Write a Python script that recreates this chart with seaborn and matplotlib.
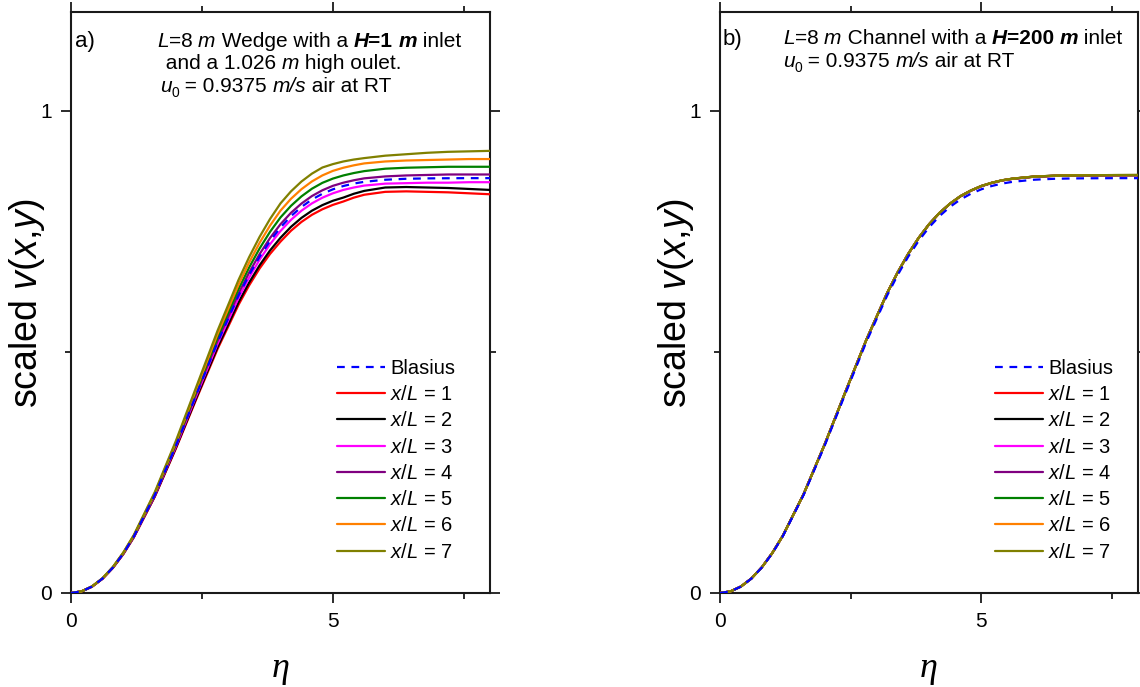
import matplotlib
matplotlib.use("Agg")
import matplotlib.pyplot as plt
from matplotlib.ticker import MultipleLocator
from matplotlib.font_manager import FontProperties
import seaborn as sns

# ---------------- data ----------------
eta = [0.0, 0.2, 0.4, 0.6, 0.8, 1.0, 1.2, 1.6, 2.0, 2.4, 2.8, 3.2, 3.4, 3.6, 3.8,
       4.0, 4.2, 4.4, 4.6, 4.8, 5.0, 5.2, 5.4, 5.6, 6.0, 6.4, 6.8, 7.2, 7.6, 8.0]

blasius = [0.0, 0.0033, 0.0133, 0.0298, 0.0528, 0.0821, 0.1173, 0.2033, 0.3048, 0.4136,
           0.5206, 0.6172, 0.6595, 0.6972, 0.7301, 0.7582, 0.7816, 0.8007, 0.8161, 0.8280,
           0.8372, 0.8441, 0.8492, 0.8528, 0.8571, 0.8591, 0.8599, 0.8602, 0.8604, 0.8604]

# panel a: wedge, H = 1 m
a_x1 = [0.0, 0.0033, 0.0130, 0.0293, 0.0520, 0.0808, 0.1155, 0.1998, 0.2989, 0.4040,
        0.5065, 0.5980, 0.6378, 0.6729, 0.7032, 0.7288, 0.7513, 0.7696, 0.7844, 0.7959,
        0.8050, 0.8120, 0.8200, 0.8260, 0.8320, 0.8330, 0.8320, 0.8310, 0.8290, 0.8270]
a_x2 = [0.0, 0.0033, 0.0131, 0.0295, 0.0522, 0.0812, 0.1160, 0.2007, 0.3005, 0.4066,
        0.5103, 0.6032, 0.6436, 0.6794, 0.7104, 0.7367, 0.7594, 0.7780, 0.7929, 0.8045,
        0.8135, 0.8201, 0.8280, 0.8340, 0.8410, 0.8420, 0.8410, 0.8400, 0.8380, 0.8360]
a_x3 = [0.0, 0.0033, 0.0132, 0.0297, 0.0526, 0.0818, 0.1168, 0.2024, 0.3033, 0.4112,
        0.5170, 0.6124, 0.6540, 0.6911, 0.7233, 0.7508, 0.7739, 0.7929, 0.8081, 0.8199,
        0.8290, 0.8360, 0.8410, 0.8450, 0.8490, 0.8500, 0.8510, 0.8510, 0.8520, 0.8520]
a_x4 = [0.0, 0.0033, 0.0134, 0.0299, 0.0530, 0.0824, 0.1177, 0.2041, 0.3061, 0.4158,
        0.5238, 0.6215, 0.6644, 0.7027, 0.7362, 0.7649, 0.7885, 0.8077, 0.8233, 0.8353,
        0.8445, 0.8510, 0.8560, 0.8600, 0.8640, 0.8660, 0.8670, 0.8680, 0.8680, 0.8680]
a_x5 = [0.0, 0.0033, 0.0135, 0.0301, 0.0534, 0.0830, 0.1186, 0.2058, 0.3090, 0.4204,
        0.5306, 0.6307, 0.6749, 0.7144, 0.7491, 0.7790, 0.8030, 0.8226, 0.8385, 0.8507,
        0.8595, 0.8660, 0.8710, 0.8750, 0.8800, 0.8820, 0.8830, 0.8840, 0.8840, 0.8840]
a_x6 = [0.0, 0.0034, 0.0136, 0.0303, 0.0538, 0.0836, 0.1195, 0.2075, 0.3118, 0.4250,
        0.5374, 0.6399, 0.6853, 0.7261, 0.7620, 0.7931, 0.8176, 0.8375, 0.8536, 0.8661,
        0.8755, 0.8820, 0.8870, 0.8910, 0.8950, 0.8970, 0.8980, 0.8990, 0.9000, 0.9000]
a_x7 = [0.0, 0.0034, 0.0137, 0.0306, 0.0542, 0.0843, 0.1204, 0.2093, 0.3148, 0.4299,
        0.5446, 0.6497, 0.6964, 0.7385, 0.7757, 0.8081, 0.8330, 0.8534, 0.8698, 0.8825,
        0.8895, 0.8950, 0.8990, 0.9020, 0.9070, 0.9100, 0.9130, 0.9150, 0.9160, 0.9170]

# panel b: channel, H = 200 m
b_x1 = [0.0, 0.0033, 0.0134, 0.0300, 0.0532, 0.0828, 0.1183, 0.2050, 0.3073, 0.4170,
        0.5249, 0.6223, 0.6648, 0.7028, 0.7360, 0.7644, 0.7879, 0.8070, 0.8226, 0.8343,
        0.8437, 0.8504, 0.8556, 0.8590, 0.8632, 0.8651, 0.8659, 0.8662, 0.8664, 0.8665]
b_x2 = [0.0, 0.0033, 0.0134, 0.0300, 0.0532, 0.0828, 0.1183, 0.2050, 0.3073, 0.4170,
        0.5249, 0.6223, 0.6648, 0.7029, 0.7361, 0.7645, 0.7880, 0.8071, 0.8227, 0.8344,
        0.8438, 0.8505, 0.8557, 0.8591, 0.8633, 0.8652, 0.8660, 0.8663, 0.8665, 0.8666]
b_x3 = [0.0, 0.0033, 0.0134, 0.0300, 0.0532, 0.0828, 0.1183, 0.2050, 0.3073, 0.4170,
        0.5249, 0.6223, 0.6649, 0.7029, 0.7362, 0.7646, 0.7881, 0.8072, 0.8228, 0.8345,
        0.8439, 0.8506, 0.8558, 0.8592, 0.8634, 0.8653, 0.8661, 0.8664, 0.8666, 0.8667]
b_x4 = [0.0, 0.0033, 0.0134, 0.0300, 0.0532, 0.0828, 0.1183, 0.2050, 0.3073, 0.4170,
        0.5249, 0.6223, 0.6649, 0.7030, 0.7362, 0.7646, 0.7882, 0.8073, 0.8229, 0.8346,
        0.8440, 0.8507, 0.8559, 0.8593, 0.8635, 0.8654, 0.8662, 0.8665, 0.8667, 0.8668]
b_x5 = [0.0, 0.0033, 0.0134, 0.0300, 0.0532, 0.0828, 0.1183, 0.2050, 0.3073, 0.4170,
        0.5249, 0.6223, 0.6649, 0.7030, 0.7363, 0.7647, 0.7883, 0.8074, 0.8230, 0.8347,
        0.8441, 0.8508, 0.8560, 0.8594, 0.8636, 0.8655, 0.8663, 0.8666, 0.8668, 0.8669]
b_x6 = [0.0, 0.0033, 0.0134, 0.0300, 0.0532, 0.0828, 0.1183, 0.2050, 0.3073, 0.4170,
        0.5249, 0.6223, 0.6649, 0.7030, 0.7363, 0.7647, 0.7883, 0.8074, 0.8230, 0.8347,
        0.8441, 0.8508, 0.8560, 0.8594, 0.8636, 0.8655, 0.8663, 0.8666, 0.8668, 0.8669]
b_x7 = [0.0, 0.0033, 0.0134, 0.0300, 0.0532, 0.0828, 0.1183, 0.2050, 0.3073, 0.4170,
        0.5249, 0.6223, 0.6649, 0.7030, 0.7363, 0.7647, 0.7883, 0.8074, 0.8230, 0.8347,
        0.8441, 0.8508, 0.8560, 0.8594, 0.8636, 0.8655, 0.8663, 0.8666, 0.8668, 0.8669]

series_labels = [r"$\mathit{x/L}$ = %d" % k for k in range(1, 8)]
series_colors = ["#ff0000", "#000000", "#ff00ff", "#800080", "#008000", "#ff8000", "#808000"]
blasius_color = "#0000ff"

x_major = [0, 5]
y_major = [0, 1]

# ---------------- style ----------------
sns.set_style("ticks")
plt.rcParams["font.family"] = ["Liberation Sans", "DejaVu Sans"]
plt.rcParams["mathtext.fontset"] = "custom"
plt.rcParams["mathtext.rm"] = "Liberation Sans"
plt.rcParams["mathtext.it"] = "Liberation Sans:italic"
plt.rcParams["mathtext.bf"] = "Liberation Sans:bold"
plt.rcParams["text.color"] = "black"
plt.rcParams["axes.labelcolor"] = "black"

W, H = 1140, 687
fig = plt.figure(figsize=(W / 100, H / 100), dpi=100)


def px_axes(l, r, t, b):
    return fig.add_axes([l / W, 1 - b / H, (r - l) / W, (b - t) / H])


ax_a = px_axes(71, 490, 12, 593)
ax_b = px_axes(720, 1138, 12, 593)

panels = [
    (ax_a, [a_x1, a_x2, a_x3, a_x4, a_x5, a_x6, a_x7], (337 - 71) / 419, -24 / 419),
    (ax_b, [b_x1, b_x2, b_x3, b_x4, b_x5, b_x6, b_x7], (995 - 720) / 418, -24 / 418),
]

for ax, curves, leg_x, ylab_x in panels:
    sns.lineplot(x=eta, y=blasius, ax=ax, color=blasius_color, lw=1.6,
                 linestyle=(0, (3.5, 3)), label="Blasius", zorder=5)
    for vals, lab, col in zip(curves, series_labels, series_colors):
        sns.lineplot(x=eta, y=vals, ax=ax, color=col, lw=1.6, label=lab, zorder=3)
    ax.set_xlim(0, 8)
    ax.set_ylim(0, 1.205)
    ax.set_xticks(x_major)
    ax.set_yticks(y_major)
    ax.xaxis.set_minor_locator(MultipleLocator(2.5))
    ax.yaxis.set_minor_locator(MultipleLocator(0.5))
    ax.tick_params(which="both", direction="out", top=True, right=True,
                   width=1.3, colors="#1a1a1a", labelcolor="black")
    ax.tick_params(which="major", length=7, labelsize=15, pad=7)
    ax.tick_params(which="minor", length=4)
    for s in ax.spines.values():
        s.set_linewidth(1.5)
        s.set_color("#1a1a1a")
    ax.set_xlabel("η", fontfamily="Liberation Serif", style="italic", fontsize=26, labelpad=15)
    ax.set_ylabel(r"scaled $\mathit{v}$($\mathit{x}$,$\mathit{y}$)", fontsize=27)
    ax.yaxis.set_label_coords(ylab_x, 0.5)
    leg = ax.legend(loc="upper left", bbox_to_anchor=(leg_x, 0.403), frameon=False,
                    fontsize=14.5, handlelength=2.4, handletextpad=0.25,
                    labelspacing=0.36, borderpad=0, borderaxespad=0)
    for t in leg.get_texts():
        t.set_color("black")

renderer = fig.canvas.get_renderer()


def seg_width(s, prop):
    w1, _, _ = renderer.get_text_width_height_descent(s + "|", prop, ismath=False)
    w2, _, _ = renderer.get_text_width_height_descent("|", prop, ismath=False)
    return w1 - w2


def rich(x, y, segs, size=15):
    cx = x
    for seg in segs:
        s, style, weight = seg[0], seg[1], seg[2]
        sz = seg[3] if len(seg) > 3 else size
        dy = seg[4] if len(seg) > 4 else 0
        prop = FontProperties(family="Liberation Sans", style=style, weight=weight, size=sz)
        fig.text(cx / W, 1 - (y + dy) / H, s, fontproperties=prop, va="baseline",
                 ha="left", color="black")
        cx += seg_width(s, prop)


N, I, B = "normal", "italic", "bold"

rich(75, 47, [("a)", N, N, 16)])
rich(157, 47, [("L", I, N), ("=8 ", N, N), ("m", I, N), (" Wedge with a ", N, N),
               ("H", I, B), ("=1 ", N, B), ("m", I, B), (" inlet", N, N)])
rich(160, 69, [(" and a 1.026 ", N, N), ("m", I, N), (" high oulet.", N, N)])
rich(160, 92, [("u", I, N), ("0", N, N, 10, 5), (" = 0.9375 ", N, N), ("m/s", I, N),
               (" air at RT", N, N)])

rich(723, 45, [("b)", N, N, 16)])
rich(783, 44, [("L", I, N), ("=8 ", N, N), ("m", I, N), (" Channel with a ", N, N),
               ("H", I, B), ("=200 ", N, B), ("m", I, B), (" inlet", N, N)])
rich(783, 67, [("u", I, N), ("0", N, N, 10, 5), (" = 0.9375 ", N, N), ("m/s", I, N),
               (" air at RT", N, N)])

fig.savefig("out.png", dpi=100)
